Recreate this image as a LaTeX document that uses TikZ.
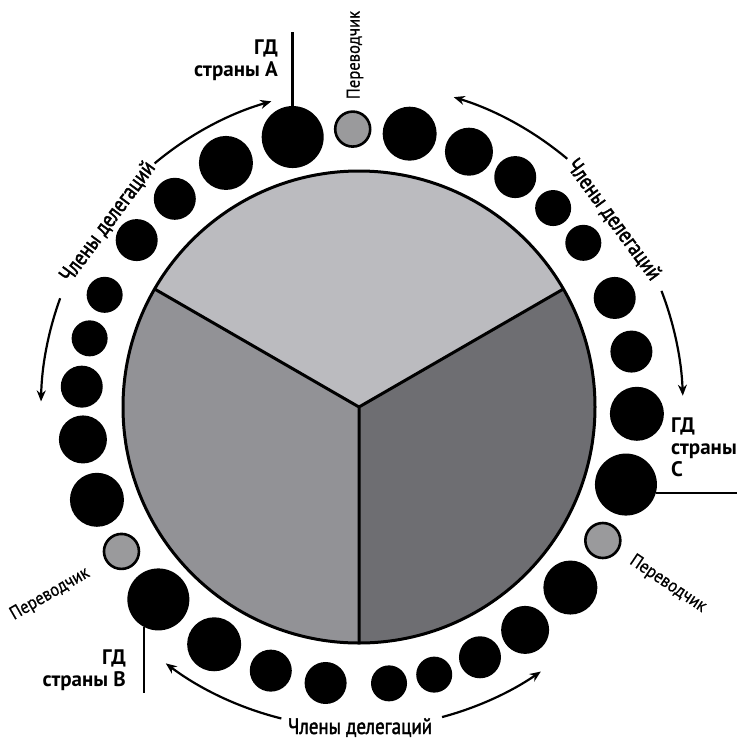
\documentclass[tikz,border=0pt]{standalone}
\usepackage{fontspec}
\newfontfamily\cond{PT Sans}[FakeStretch=0.9,FakeBold=0.6]
\newfontfamily\condm{PT Sans}[FakeStretch=0.84,FakeBold=1.8]
\newfontfamily\gdf{PT Sans}
\usetikzlibrary{arrows.meta,calc}
\definecolor{secA}{HTML}{BBBBBF}
\definecolor{secB}{HTML}{929296}
\definecolor{secC}{HTML}{6E6E72}
\definecolor{trans}{HTML}{9A9A9C}
\begin{document}
\begin{tikzpicture}[x=1pt,y=1pt,
  member/.style={circle,fill=black,inner sep=0pt,minimum size=#1},
  gd/.style={circle,fill=black,inner sep=0pt,minimum size=62pt},
  interp/.style={circle,fill=trans,draw=black,line width=2.6pt,inner sep=0pt,minimum size=35pt},
  flow/.style={line width=2.2pt,-{Stealth[length=11pt,width=9pt]}},
  conn/.style={line width=2.4pt},
  lbl/.style={font=\condm\fontsize{22.5}{23}\selectfont,inner sep=0pt},
  tlbl/.style={font=\cond\fontsize{18.5}{19}\selectfont,inner sep=0pt},
  gdlbl/.style={font=\gdf\bfseries\fontsize{21}{22}\selectfont,inner sep=0pt},
]
\useasboundingbox (0,0) rectangle (737,-740);
\coordinate (O) at (359,-407);
% sectors of the table
\fill[secA] (O) -- ($(O)+(30:236pt)$) arc[start angle=30,end angle=150,radius=236pt] -- cycle;
\fill[secB] (O) -- ($(O)+(150:236pt)$) arc[start angle=150,end angle=270,radius=236pt] -- cycle;
\fill[secC] (O) -- ($(O)+(270:236pt)$) arc[start angle=270,end angle=390,radius=236pt] -- cycle;
\node[circle,draw,line width=3pt,minimum size=472pt,inner sep=0pt] (table) at (O) {};
\coordinate (s1) at ($(O)+(30:236pt)$);
\coordinate (s2) at ($(O)+(150:236pt)$);
\coordinate (s3) at ($(O)+(270:236pt)$);
\draw[line width=3pt] (O) -- (s1) (O) -- (s2) (O) -- (s3);
% seats
\foreach \g/\T in {a/91.3,c/-28.7,b/-148.7}{
  \node[interp] (t\g) at ($(O)+(\T:278pt)$) {};
  \node[gd] (g\g) at ($(O)+(\T+12.5:278pt)$) {};
  \foreach \i/\d/\s in {1/11.8/54,2/24.6/48,3/35.5/42,4/45.6/36,5/55.1/36,6/68.2/42,7/79.8/42,8/92.7/54}{
    \node[member=\s pt] (m\g\i) at ($(O)+(\T-\d:278pt)$) {};
  }
}
% heads of delegation lines
\coordinate (aTop) at (293,-32);
\draw[conn] (ga.north) -- (ga.north |- aTop);
\coordinate (bBot) at (143,-693);
\draw[conn] (gb.243) -- (gb.243 |- bBot);
\coordinate (cEnd) at (737,-493);
\draw[conn] (gc.-16) -- (gc.-16 -| cEnd);
% arrows
\coordinate (l1) at ($(O)+(130:318pt)$);
\coordinate (l2) at ($(O)+(160:318pt)$);
\draw[flow] (l1) arc[start angle=130,end angle=106,radius=318pt];
\draw[flow] (l2) arc[start angle=160,end angle=179,radius=318pt];
\coordinate (r1) at ($(O)+(50:324pt)$);
\coordinate (r2) at ($(O)+(21:324pt)$);
\draw[flow] (r1) arc[start angle=50,end angle=73,radius=324pt];
\draw[flow] (r2) arc[start angle=21,end angle=2,radius=324pt];
\coordinate (d1) at ($(O)+(-104:321pt)$);
\coordinate (d2) at ($(O)+(-75:321pt)$);
\draw[flow] (d1) arc[start angle=-104,end angle=-127,radius=321pt];
\draw[flow] (d2) arc[start angle=-75,end angle=-55.5,radius=321pt];
% labels
\node[lbl,rotate=53.5] (dl) at ($(O)+(143.6:312pt)$) {Члены делегаций};
\node[lbl,rotate=-53.7] (dr) at ($(O)+(36.3:316pt)$) {Члены делегаций};
\node[lbl,anchor=base] (dd) at (360,-734) {Члены делегаций};
\node[tlbl,rotate=90] (pa) at (355,-55) {Переводчик};
\node[tlbl,rotate=30] (pb) at (50,-594) {Переводчик};
\node[tlbl,rotate=-34] (pc) at (668,-584) {Переводчик};
\node[gdlbl,align=right,anchor=north east] (la) at (278,-40) {ГД\\страны А};
\node[gdlbl,align=right,anchor=north east] (lb) at (126,-650) {ГД\\страны В};
\node[gdlbl,align=left,anchor=north west] (lc) at (671,-418) {ГД\\страны\\С};
\end{tikzpicture}
\end{document}
